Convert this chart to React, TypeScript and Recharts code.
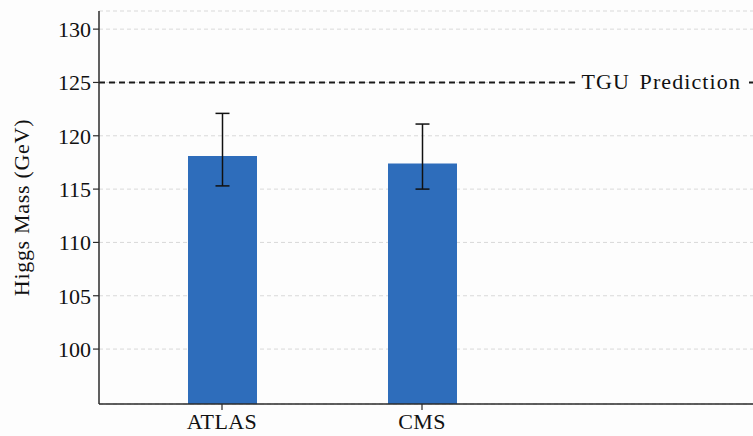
import React from "react";
import {
  ComposedChart,
  Bar,
  ErrorBar,
  XAxis,
  YAxis,
  CartesianGrid,
  ReferenceLine,
} from "recharts";

const experiments = ["ATLAS", "CMS"];
const higgsMass = [118.1, 117.4];
const errLow = [2.8, 2.4];
const errHigh = [4, 3.7];
const yTicks = [100, 105, 110, 115, 120, 125, 130];
const tguPrediction = 125;
const predictionLabel = "TGU Prediction";

const data = experiments.map((name, i) => ({
  name,
  mass: higgsMass[i],
  err: [errLow[i], errHigh[i]],
}));

const FONT = "Liberation Serif, DejaVu Serif, serif";
const AXIS = "#2b2b2b";
const textStyle = { fontFamily: FONT, fontSize: 22, fill: "#111" };

// label sitting on the dashed line, with a white box behind it
function PredictionLabel(props: any) {
  const { viewBox } = props;
  const right = viewBox.x + viewBox.width - 49;
  const y = viewBox.y;
  const w = 171;
  return (
    <g>
      <rect x={right - w + 6} y={y - 13} width={w} height={26} fill="#fdfdfd" />
      <text
        x={right}
        y={y}
        dy={7}
        textAnchor="end"
        style={{ ...textStyle, letterSpacing: 1.1, wordSpacing: 3 }}
      >
        {predictionLabel}
      </text>
    </g>
  );
}

export default function App() {
  return (
    <div
      style={{
        position: "absolute",
        left: 0,
        top: 0,
        width: 753,
        height: 436,
        overflow: "hidden",
        background: "#fdfdfd",
        fontFamily: FONT,
      }}
    >
      <ComposedChart
        width={800}
        height={436}
        data={data}
        margin={{ top: 11, right: 10, left: 0, bottom: 0 }}
      >
        <CartesianGrid
          vertical={false}
          stroke="#d9d9d9"
          strokeDasharray="4 3"
        />
        <XAxis
          dataKey="name"
          type="category"
          padding={{ left: 23, right: 268 }}
          height={32}
          tickSize={6}
          tickMargin={3}
          axisLine={{ stroke: AXIS, strokeWidth: 1.5 }}
          tickLine={{ stroke: AXIS, strokeWidth: 1.2 }}
          tick={{ ...textStyle, style: { ...textStyle, letterSpacing: 0.4 } }}
          interval={0}
        />
        <XAxis
          xAxisId="top"
          dataKey="name"
          orientation="top"
          height={0}
          tick={false}
          tickLine={false}
          axisLine={{ stroke: AXIS, strokeWidth: 1.5 }}
        />
        <YAxis
          type="number"
          domain={[94.85, 131.7]}
          allowDataOverflow
          ticks={yTicks}
          width={99}
          tickSize={6}
          tickMargin={2}
          axisLine={{ stroke: AXIS, strokeWidth: 1.5 }}
          tickLine={{ stroke: AXIS, strokeWidth: 1.2 }}
          tick={{ ...textStyle, style: textStyle }}
          label={{
            value: "Higgs Mass (GeV)",
            angle: -90,
            position: "insideLeft",
            offset: 21,
            style: { ...textStyle, textAnchor: "middle", letterSpacing: 0.7 },
          }}
        />
        <ReferenceLine
          y={tguPrediction}
          stroke="#1a1a1a"
          strokeWidth={2}
          strokeDasharray="6 4"
          label={<PredictionLabel />}
        />
        <Bar
          dataKey="mass"
          fill="#2e6dbb"
          barSize={69}
          isAnimationActive={false}
        >
          <ErrorBar
            dataKey="err"
            direction="y"
            width={7}
            stroke="#111"
            strokeWidth={1.5}
          />
        </Bar>
      </ComposedChart>
    </div>
  );
}
